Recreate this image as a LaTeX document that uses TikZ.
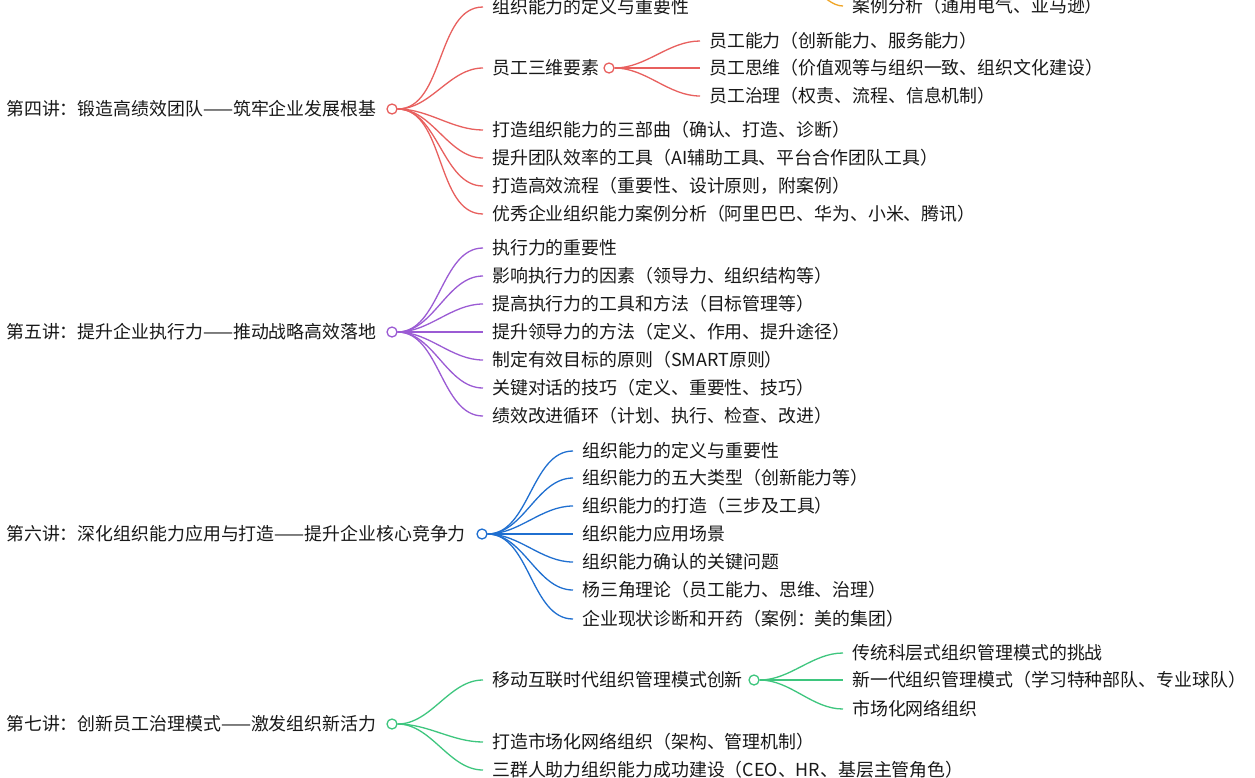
\documentclass[tikz,border=0pt]{standalone}
\usepackage{fontspec}
\setmainfont{Noto Sans CJK SC}
\definecolor{cr}{HTML}{E8605E}
\definecolor{cp}{HTML}{9B5BD4}
\definecolor{cb}{HTML}{1F6FD0}
\definecolor{cg}{HTML}{3EC67E}
\definecolor{co}{HTML}{F0A526}
\tikzset{txt/.style={anchor=west,inner sep=0pt,font=\fontsize{17.9}{20}\selectfont,text=black!90},
 dot/.style={circle,line width=1.3pt,fill=white,minimum size=10pt,inner sep=0pt},
 lnk/.style={line width=1.3pt}}
\newcommand{\mybr}[5]{%
  \node[txt] (#2) at (#3,#4) {#5};
  \draw[lnk,\cc] (#1.east) to[out=0,in=180,looseness=0.9] ([xshift=-9pt]#2.west);}
\begin{document}
\begin{tikzpicture}[x=1pt,y=-1pt]
\useasboundingbox (0,0) rectangle (1255,777);
\fill[white] (0,0) rectangle (1255,777);
\node[txt] (oa) at (852,6) {案例分析（通用电气、亚马逊）};
\coordinate (oc) at (795,-14);
\draw[lnk,co] (oc) to[out=60,in=180] ([xshift=-9pt]oa.west);
% Section 4
\def\cc{cr}
\node[txt] (r4) at (6,109) {第四讲：锻造高绩效团队——筑牢企业发展根基};
\node[dot,draw=cr] (d4) at (392,109) {};
\mybr{d4}{a1}{492}{7}{组织能力的定义与重要性}
\mybr{d4}{a2}{492}{68}{员工三维要素}
\node[dot,draw=cr] (d42) at (609,68) {};
\mybr{d42}{b1}{709}{41}{员工能力（创新能力、服务能力）}
\mybr{d42}{b2}{709}{68}{员工思维（价值观等与组织一致、组织文化建设）}
\mybr{d42}{b3}{709}{96}{员工治理（权责、流程、信息机制）}
\mybr{d4}{a3}{492}{130}{打造组织能力的三部曲（确认、打造、诊断）}
\mybr{d4}{a4}{492}{158}{提升团队效率的工具（AI辅助工具、平台合作团队工具）}
\mybr{d4}{a5}{492}{186}{打造高效流程（重要性、设计原则，附案例）}
\mybr{d4}{a6}{492}{214}{优秀企业组织能力案例分析（阿里巴巴、华为、小米、腾讯）}
% Section 5
\def\cc{cp}
\node[txt] (r5) at (6,332) {第五讲：提升企业执行力——推动战略高效落地};
\node[dot,draw=cp] (d5) at (392,332) {};
\mybr{d5}{c1}{492}{248}{执行力的重要性}
\mybr{d5}{c2}{492}{276}{影响执行力的因素（领导力、组织结构等）}
\mybr{d5}{c3}{492}{304}{提高执行力的工具和方法（目标管理等）}
\mybr{d5}{c4}{492}{332}{提升领导力的方法（定义、作用、提升途径）}
\mybr{d5}{c5}{492}{360}{制定有效目标的原则（SMART原则）}
\mybr{d5}{c6}{492}{388}{关键对话的技巧（定义、重要性、技巧）}
\mybr{d5}{c7}{492}{416}{绩效改进循环（计划、执行、检查、改进）}
% Section 6
\def\cc{cb}
\node[txt] (r6) at (6,534) {第六讲：深化组织能力应用与打造——提升企业核心竞争力};
\node[dot,draw=cb] (d6) at (482,534) {};
\mybr{d6}{e1}{582}{451}{组织能力的定义与重要性}
\mybr{d6}{e2}{582}{478}{组织能力的五大类型（创新能力等）}
\mybr{d6}{e3}{582}{506}{组织能力的打造（三步及工具）}
\mybr{d6}{e4}{582}{534}{组织能力应用场景}
\mybr{d6}{e5}{582}{562}{组织能力确认的关键问题}
\mybr{d6}{e6}{582}{590}{杨三角理论（员工能力、思维、治理）}
\mybr{d6}{e7}{582}{619}{企业现状诊断和开药（案例：美的集团）}
% Section 7
\def\cc{cg}
\node[txt] (r7) at (6,724) {第七讲：创新员工治理模式——激发组织新活力};
\node[dot,draw=cg] (d7) at (392,724) {};
\mybr{d7}{f1}{492}{680}{移动互联时代组织管理模式创新}
\node[dot,draw=cg] (d72) at (754,680) {};
\mybr{d72}{g1}{852}{653}{传统科层式组织管理模式的挑战}
\mybr{d72}{g2}{852}{680}{新一代组织管理模式（学习特种部队、专业球队）}
\mybr{d72}{g3}{852}{709}{市场化网络组织}
\mybr{d7}{f2}{492}{742}{打造市场化网络组织（架构、管理机制）}
\mybr{d7}{f3}{492}{770}{三群人助力组织能力成功建设（CEO、HR、基层主管角色）}
\end{tikzpicture}
\end{document}
